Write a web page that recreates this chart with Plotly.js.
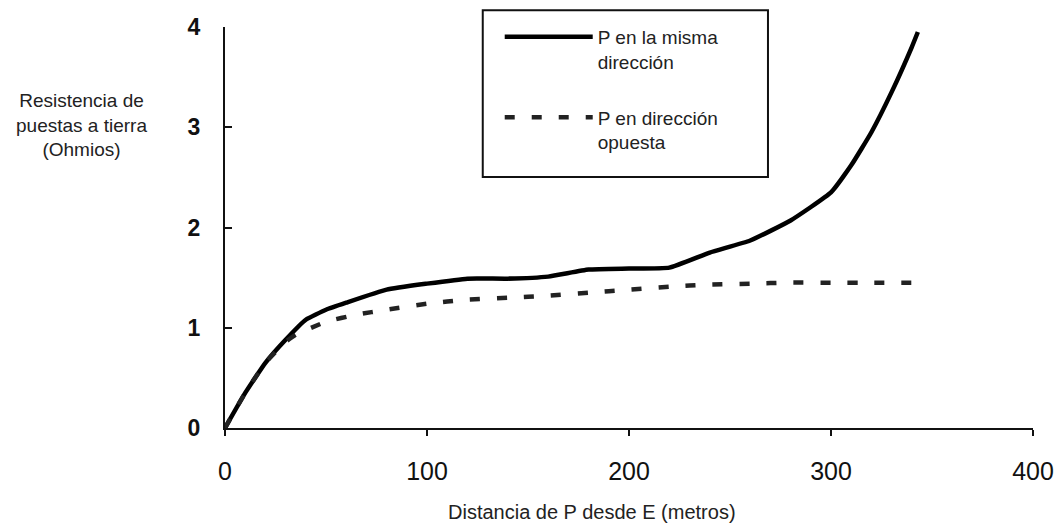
<!DOCTYPE html>
<html><head><meta charset="utf-8">
<script src="https://cdn.plot.ly/plotly-3.0.1.min.js"></script>
<style>html,body{margin:0;padding:0;background:#fff}#chart{width:1060px;height:525px}</style>
</head><body><div id="chart"></div>
<script>
var xSame = [0,10,20,30,40,50,60,80,100,120,140,160,180,200,220,240,260,280,300,310,320,330,340,343];
var ySame = [0,0.35,0.65,0.88,1.08,1.18,1.25,1.38,1.44,1.49,1.49,1.51,1.58,1.59,1.6,1.75,1.87,2.07,2.35,2.62,2.95,3.35,3.8,3.95];
var xOpp = [0,10,20,30,35,50,65,80,100,120,140,160,180,200,220,240,260,280,300,320,342];
var yOpp = [0,0.35,0.65,0.86,0.93,1.06,1.13,1.18,1.24,1.28,1.30,1.32,1.35,1.38,1.41,1.43,1.44,1.45,1.45,1.45,1.45];
var nameSame = 'P en la misma<br>dirección';
var nameOpp = 'P en dirección<br>opuesta';
var xTicks = [0,100,200,300,400];
var yTicks = [0,1,2,3,4];
var xTitle = 'Distancia de P desde E (metros)';
var yTitle = 'Resistencia de<br>puestas a tierra<br>(Ohmios)';

var font = 'Liberation Sans, Arial, sans-serif';
var data = [
  {x: xSame, y: ySame, name: nameSame, legendgroup: 'a', mode: 'lines',
   line: {color: '#000', width: 4.5, shape: 'spline', smoothing: 0.4}},
  {x: xOpp, y: yOpp, name: nameOpp, legendgroup: 'b', mode: 'lines',
   line: {color: '#222', width: 4.5, dash: '10px,17px', shape: 'spline', smoothing: 0.4}}
];
var layout = {
  width: 1060, height: 525,
  margin: {l: 225, r: 27, t: 27, b: 97},
  paper_bgcolor: '#fff', plot_bgcolor: '#fff',
  showlegend: true,
  legend: {x: 0.340, y: 1.0225, xanchor: 'left', yanchor: 'top', borderwidth: 0,
           bgcolor: 'rgba(0,0,0,0)', font: {family: font, size: 19, color: '#222'},
           tracegroupgap: 28, valign: 'top', itemwidth: 88},
  xaxis: {range: [0, 400], tickvals: xTicks, ticktext: xTicks.map(String), showgrid: false, zeroline: false,
          showline: true, linecolor: '#111', linewidth: 2, ticks: 'outside', ticklen: 6, tickwidth: 2, tickcolor: '#111',
          tickfont: {family: font, size: 25, color: '#111'}, ticklabelstandoff: 14},
  yaxis: {range: [0, 4], tickvals: yTicks, ticktext: yTicks.map(String), showgrid: false, zeroline: false,
          showline: true, linecolor: '#111', linewidth: 2, ticks: 'inside', ticklen: 7, tickwidth: 2, tickcolor: '#111',
          tickfont: {family: font, size: 23, color: '#111', weight: 'bold'}, ticklabelstandoff: 18},
  shapes: [{type: 'rect', xref: 'paper', yref: 'paper', x0: 0.319, x1: 0.672, y0: 0.626, y1: 1.042,
            line: {color: '#111', width: 2}, fillcolor: 'rgba(0,0,0,0)', layer: 'above'}],
  annotations: [
    {text: yTitle, xref: 'paper', yref: 'paper', x: -0.177, y: 0.756, xanchor: 'center', yanchor: 'middle',
     showarrow: false, align: 'center', font: {family: font, size: 19, color: '#222'}},
    {text: xTitle, xref: 'paper', yref: 'paper', x: 0.454, y: -0.209, xanchor: 'center', yanchor: 'middle',
     showarrow: false, font: {family: font, size: 20, color: '#222'}}
  ]
};
Plotly.newPlot('chart', data, layout, {displayModeBar: false, staticPlot: true});
</script></body></html>
